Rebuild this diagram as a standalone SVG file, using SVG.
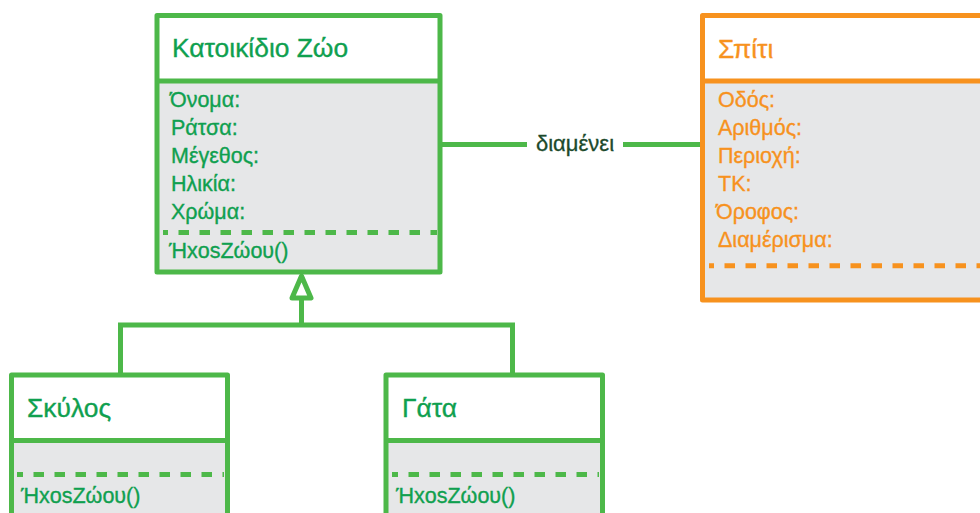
<svg xmlns="http://www.w3.org/2000/svg" width="980" height="513" viewBox="0 0 980 513">
<defs>
<style>
.g{stroke:#4db849;stroke-width:5;stroke-linejoin:round}
.o{stroke:#f7921e;stroke-width:5;stroke-linejoin:round}
.hd{fill:#ffffff}
.bd{fill:#e6e7e8}
.gt{fill:#0fa04f;stroke:#0fa04f;stroke-width:0.35;font-family:"Liberation Sans",Arial,sans-serif}
.ot{fill:#f7921e;stroke:#f7921e;stroke-width:0.35;font-family:"Liberation Sans",Arial,sans-serif}
.ttl{font-size:26.4px}
.att{font-size:21.5px}
.dg{stroke:#4db849;stroke-width:5;stroke-dasharray:10.5 10.5;fill:none}
.do{stroke:#f7921e;stroke-width:5;stroke-dasharray:10.5 10.5;fill:none}
.ln{fill:none;stroke:#4db849;stroke-width:5}
</style>
</defs>
<rect width="980" height="513" fill="#ffffff"/>
<g id="connectors">
<line class="ln" x1="440" y1="144.5" x2="527" y2="144.5"/>
<line class="ln" x1="623" y1="144.5" x2="702" y2="144.5"/>
<text x="575" y="151" text-anchor="middle" font-family="Liberation Sans, Arial, sans-serif" font-size="22" fill="#1c4a2c" stroke="#1c4a2c" stroke-width="0.3">διαμένει</text>
<polyline class="ln" points="120.5,375 120.5,325 512.5,325 512.5,375"/>
<line class="ln" x1="301.5" y1="298" x2="301.5" y2="325"/>
<polygon points="301.5,276 311,298 292,298" fill="#ffffff" stroke="#4db849" stroke-width="5" stroke-linejoin="round"/>
</g>
<g id="pet">
<rect class="hd" x="157" y="15.5" width="283" height="65.5"/>
<rect class="bd" x="157" y="81" width="283" height="191"/>
<rect x="157" y="15.5" width="283" height="256.5" fill="none" class="g"/>
<line class="g" x1="157" y1="81" x2="440" y2="81"/>
<line class="dg" x1="163" y1="232.5" x2="437" y2="232.5" stroke-dashoffset="5.5"/>
<text class="gt ttl" x="172" y="57">Κατοικίδιο Ζώο</text>
<text class="gt att" x="170" y="107">Όνομα:</text>
<text class="gt att" x="171" y="135">Ράτσα:</text>
<text class="gt att" x="171" y="163">Μέγεθος:</text>
<text class="gt att" x="171" y="191">Ηλικία:</text>
<text class="gt att" x="171" y="219">Χρώμα:</text>
<text class="gt att" x="169" y="258">ΉxosΖώου()</text>
</g>
<g id="house">
<rect class="hd" x="702.5" y="15.5" width="300" height="65.5"/>
<rect class="bd" x="702.5" y="81" width="300" height="219"/>
<rect x="702.5" y="15.5" width="300" height="284.5" fill="none" class="o"/>
<line class="o" x1="702.5" y1="81" x2="1002" y2="81"/>
<line class="do" x1="709" y1="265.7" x2="980" y2="265.7" stroke-dashoffset="5.5"/>
<text class="ot ttl" x="718" y="58">Σπίτι</text>
<text class="ot att" x="718" y="107">Οδός:</text>
<text class="ot att" x="718" y="135">Αριθμός:</text>
<text class="ot att" x="718" y="163">Περιοχή:</text>
<text class="ot att" x="718" y="191">ΤΚ:</text>
<text class="ot att" x="716" y="219">Όροφος:</text>
<text class="ot att" x="718" y="247">Διαμέρισμα:</text>
</g>
<g id="dog">
<rect class="hd" x="11.5" y="375" width="216" height="65.5"/>
<rect class="bd" x="11.5" y="440.5" width="216" height="90"/>
<rect x="11.5" y="375" width="216" height="155" fill="none" class="g"/>
<line class="g" x1="11.5" y1="440.5" x2="227.5" y2="440.5"/>
<line class="dg" x1="17" y1="474.5" x2="224" y2="474.5" stroke-dashoffset="4.5"/>
<text class="gt ttl" x="27" y="417">Σκύλος</text>
<text class="gt att" x="21" y="503">ΉxosΖώου()</text>
</g>
<g id="cat">
<rect class="hd" x="386" y="375" width="216.5" height="65.5"/>
<rect class="bd" x="386" y="440.5" width="216.5" height="90"/>
<rect x="386" y="375" width="216.5" height="155" fill="none" class="g"/>
<line class="g" x1="386" y1="440.5" x2="602.5" y2="440.5"/>
<line class="dg" x1="392" y1="474.5" x2="599" y2="474.5" stroke-dashoffset="4.5"/>
<text class="gt ttl" x="402" y="417">Γάτα</text>
<text class="gt att" x="396" y="503">ΉxosΖώου()</text>
</g>
</svg>
